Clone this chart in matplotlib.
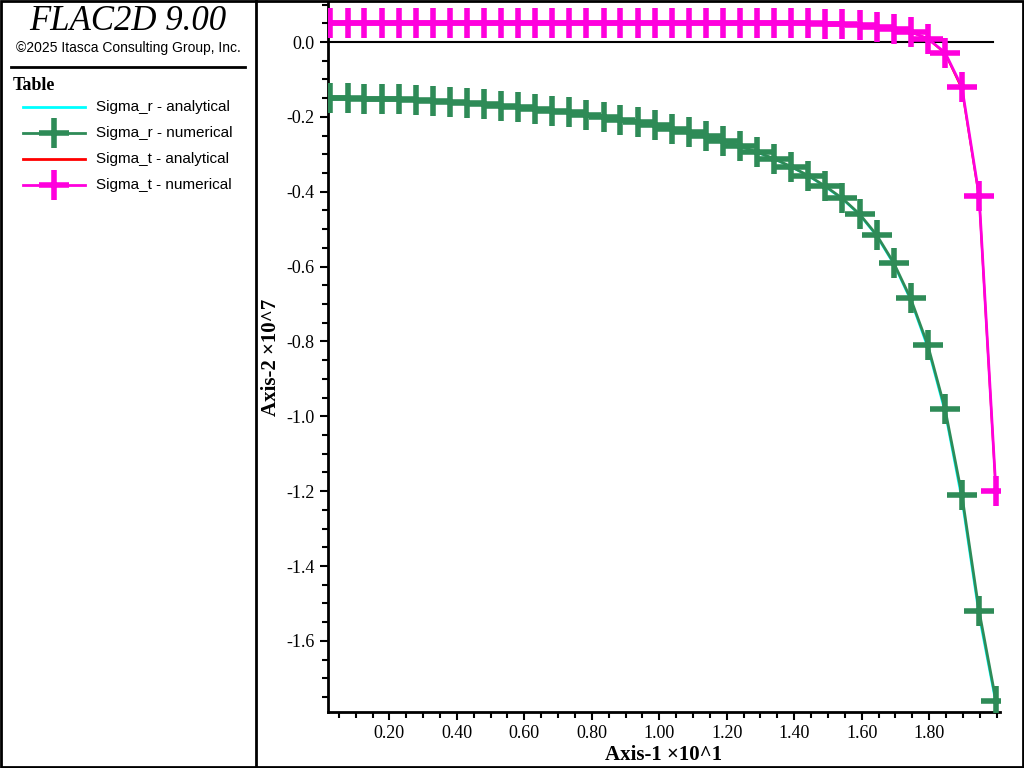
import matplotlib.pyplot as plt
import matplotlib.ticker as ticker
from matplotlib.lines import Line2D

# radial positions (Axis-1, x10^1)
x = [0.025, 0.076, 0.126, 0.177, 0.227, 0.278, 0.329, 0.379, 0.430, 0.480,
     0.531, 0.582, 0.632, 0.683, 0.733, 0.784, 0.835, 0.885, 0.936, 0.986,
     1.037, 1.088, 1.138, 1.189, 1.239, 1.290, 1.341, 1.391, 1.442, 1.492,
     1.543, 1.594, 1.644, 1.695, 1.745, 1.796, 1.847, 1.897, 1.948, 1.998]

# stresses (Axis-2, x10^7)
sig_r_num = [-0.150, -0.150, -0.151, -0.152, -0.153, -0.155, -0.157, -0.160, -0.163, -0.166,
             -0.170, -0.174, -0.178, -0.183, -0.188, -0.194, -0.200, -0.207, -0.214, -0.222,
             -0.231, -0.241, -0.252, -0.264, -0.278, -0.294, -0.312, -0.333, -0.357, -0.385,
             -0.418, -0.460, -0.515, -0.590, -0.685, -0.810, -0.980, -1.210, -1.520, -1.760]
sig_r_ana = [-0.150, -0.150, -0.151, -0.152, -0.153, -0.155, -0.157, -0.160, -0.163, -0.166,
             -0.170, -0.174, -0.178, -0.183, -0.188, -0.194, -0.200, -0.207, -0.214, -0.222,
             -0.231, -0.241, -0.252, -0.265, -0.279, -0.295, -0.313, -0.334, -0.358, -0.387,
             -0.420, -0.462, -0.518, -0.594, -0.690, -0.818, -0.990, -1.225, -1.535, -1.770]
sig_t_num = [0.050, 0.050, 0.050, 0.050, 0.050, 0.050, 0.050, 0.050, 0.050, 0.050,
             0.050, 0.050, 0.050, 0.050, 0.050, 0.050, 0.050, 0.050, 0.050, 0.050,
             0.050, 0.050, 0.050, 0.050, 0.050, 0.050, 0.050, 0.050, 0.050, 0.049,
             0.048, 0.045, 0.040, 0.036, 0.027, 0.009, -0.028, -0.120, -0.410, -1.200]
sig_t_ana = [0.050, 0.050, 0.050, 0.050, 0.050, 0.050, 0.050, 0.050, 0.050, 0.050,
             0.050, 0.050, 0.050, 0.050, 0.050, 0.050, 0.050, 0.050, 0.050, 0.050,
             0.050, 0.050, 0.050, 0.050, 0.050, 0.050, 0.050, 0.050, 0.050, 0.049,
             0.048, 0.045, 0.040, 0.036, 0.027, 0.009, -0.030, -0.125, -0.415, -1.205]

x_ticks = [0.20, 0.40, 0.60, 0.80, 1.00, 1.20, 1.40, 1.60, 1.80]
y_ticks = [0.0, -0.2, -0.4, -0.6, -0.8, -1.0, -1.2, -1.4, -1.6]

W, H = 1024, 768
fig = plt.figure(figsize=(W / 100, H / 100), dpi=100)
serif = 'Liberation Serif'

ax = fig.add_axes([328 / W, 1 - 712 / H, (1000 - 328) / W, (712 - 2) / H])
ax.plot(x, sig_r_ana, color='cyan', lw=1.5, zorder=2)
ax.plot(x, sig_r_num, color='#2e8b57', lw=2, marker='+', ms=22, mew=4, zorder=3)
ax.plot(x, sig_t_ana, color='red', lw=1.5, zorder=2)
ax.plot(x, sig_t_num, color='#ff00dd', lw=2, marker='+', ms=22, mew=4, zorder=3)
ax.plot([0.02, 1.99], [0, 0], color='black', lw=1.5, zorder=1)

ax.set_xlim(0.018, 2.01)
ax.set_ylim(-1.79, 0.107)
ax.spines['top'].set_visible(False)
ax.spines['right'].set_visible(False)
ax.spines['left'].set_linewidth(2)
ax.spines['bottom'].set_linewidth(2)
ax.set_xticks(x_ticks)
ax.set_xticklabels(['%.2f' % v for v in x_ticks])
ax.set_yticks(y_ticks)
ax.set_yticklabels(['%.1f' % v for v in y_ticks])
ax.xaxis.set_minor_locator(ticker.MultipleLocator(0.05))
ax.yaxis.set_minor_locator(ticker.MultipleLocator(0.05))
ax.tick_params(which='major', length=6, width=1.5, labelsize=13, direction='out')
ax.tick_params(which='minor', length=4, width=1.5, direction='out')
for lab in ax.get_xticklabels() + ax.get_yticklabels():
    lab.set_fontfamily(serif)
ax.set_xlabel('Axis-1 ×10^1', fontfamily=serif, fontweight='bold', fontsize=15, labelpad=2)
ax.set_ylabel('Axis-2 ×10^7', fontfamily=serif, fontweight='bold', fontsize=15, labelpad=4)

# frame and left info panel
fig.add_artist(plt.Rectangle((0.001, 0.001), 0.998, 0.998, transform=fig.transFigure,
                             fill=False, ec='black', lw=2))
fig.add_artist(Line2D([256 / W, 256 / W], [0, 1], color='black', lw=2))
fig.text(128 / W, 1 - 22 / H, 'FLAC2D 9.00', ha='center', va='center',
         fontfamily=serif, fontstyle='italic', fontsize=25)
fig.text(128 / W, 1 - 48 / H, '©2025 Itasca Consulting Group, Inc.', ha='center', va='center',
         fontfamily='Liberation Sans', fontsize=10)
fig.add_artist(Line2D([11 / W, 245 / W], [1 - 67 / H, 1 - 67 / H], color='black', lw=2))
fig.text(13 / W, 1 - 86 / H, 'Table', ha='left', va='center',
         fontfamily=serif, fontweight='bold', fontsize=13)

legend_items = [('Sigma_r - analytical', 'cyan', False),
                ('Sigma_r - numerical', '#2e8b57', True),
                ('Sigma_t - analytical', 'red', False),
                ('Sigma_t - numerical', '#ff00dd', True)]
for i, (name, col, mk) in enumerate(legend_items):
    yy = 1 - (107 + 26 * i) / H
    fig.add_artist(Line2D([23 / W, 85 / W], [yy, yy], color=col, lw=2))
    if mk:
        fig.add_artist(Line2D([54 / W], [yy], color=col, marker='+', ms=22, mew=4))
    fig.text(96 / W, yy, name, ha='left', va='center', fontfamily='Liberation Sans', fontsize=11)

fig.savefig('out.png', dpi=100)
